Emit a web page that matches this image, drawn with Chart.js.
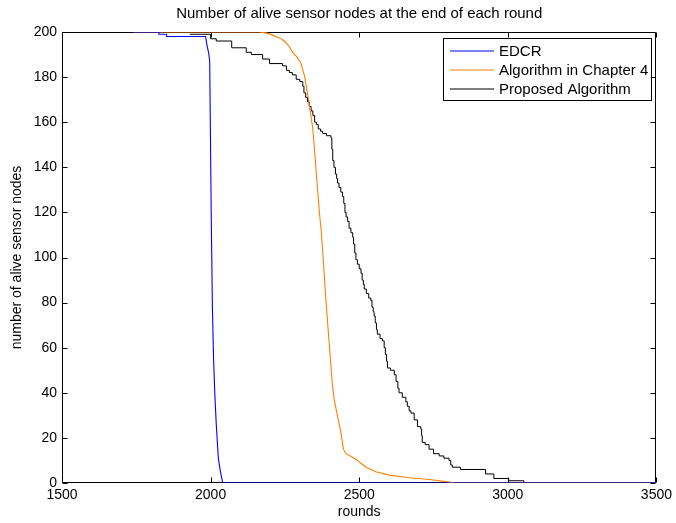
<!DOCTYPE html>
<html>
<head>
<meta charset="utf-8">
<script src="https://cdn.jsdelivr.net/npm/chart.js@4/dist/chart.umd.min.js"></script>
<style>
  html, body { margin: 0; padding: 0; background: #fff; }
  #wrap { width: 676px; height: 523px; }
</style>
</head>
<body>
<div id="wrap"><canvas id="c" width="676" height="523"></canvas></div>
<script>
// ---- data ----
const chartTitle = 'Number of alive sensor nodes at the end of each round';
const xAxisTitle = 'rounds';
const yAxisTitle = 'number of alive sensor nodes';
const seriesNames = ['EDCR', 'Algorithm in Chapter 4', 'Proposed Algorithm'];

const xTickValues = [1500, 2000, 2500, 3000, 3500];
const yTickValues = [0, 20, 40, 60, 80, 100, 120, 140, 160, 180, 200];

const edcrRounds = [1740, 1826, 1826, 1852, 1852, 1983, 1988, 1993, 1997, 1999, 2002, 2006, 2010, 2014, 2019, 2026, 2033, 2041, 3500];
const edcrAlive  = [200, 200, 199, 199, 198, 198, 194, 191, 187, 160, 120, 78, 55, 40, 26, 11, 5, 0, 0];

const ch4Rounds = [1740, 2165, 2190, 2210, 2230, 2248, 2262, 2276, 2290, 2304, 2316, 2327, 2335, 2343, 2349, 2358, 2366, 2372, 2377, 2388, 2399, 2410, 2416, 2422, 2439, 2447, 2455, 2470, 2489, 2523, 2556, 2601, 2668, 2701, 2750, 2791, 2825, 3500];
const ch4Alive  = [200, 200, 199.5, 198.5, 197.5, 196, 194, 191, 189, 186, 180.5, 172, 165, 158, 149, 133, 120, 112, 103, 81, 62, 43, 37, 33, 22, 15, 13, 12, 10.5, 7, 5, 3.5, 2.3, 2, 1.3, 0.6, 0, 0];

const propRounds = [1930, 2000, 2019, 2071, 2120, 2137, 2175, 2198, 2242, 2255, 2265, 2275, 2288, 2300, 2310, 2314, 2320, 2326, 2332, 2338, 2344, 2350, 2356, 2362, 2370, 2377, 2390, 2405, 2408, 2411, 2415, 2420, 2424, 2427, 2432, 2438, 2444, 2448, 2452, 2456, 2461, 2466, 2472, 2478, 2481, 2485, 2489, 2494, 2500, 2506, 2510, 2514, 2517, 2524, 2532, 2539, 2543, 2547, 2550, 2554, 2558, 2561, 2570, 2578, 2584, 2588, 2592, 2595, 2605, 2618, 2624, 2630, 2634, 2645, 2657, 2662, 2668, 2674, 2685, 2696, 2707, 2710, 2712, 2722, 2735, 2750, 2769, 2785, 2802, 2808, 2813, 2841, 2925, 2953, 3003, 3054, 3500];
const propAlive  = [199, 197, 196, 193, 191, 190, 188, 186, 185, 183, 182, 181, 179, 178, 176, 173, 171, 169, 167, 165, 163, 160, 159, 157, 156, 155, 154, 153, 148, 143, 140, 137, 135, 133, 131, 129, 127, 124, 120, 118, 116, 113, 111, 109, 106, 102, 99, 97, 95, 93, 90, 88, 86, 84, 82, 81, 78, 76, 74, 71, 68, 66, 64, 63, 60, 57, 54, 51, 50, 48, 45, 42, 40, 38, 36, 34, 32, 31, 28, 25, 24, 21, 18, 17, 15, 13, 12, 11, 10, 8, 7, 6, 4, 2, 1, 0, 0];

const seriesColors = ['#0000ff', '#ff8000', '#000000'];

// ---- build library data from the arrays ----
function pairs(xs, ys) { return xs.map((x, i) => ({ x: x, y: ys[i] })); }

const FONT = "'Liberation Sans', Arial, Helvetica, sans-serif";

const framePlugin = {
  id: 'frame',
  beforeDatasetsDraw(chart) {
    const { ctx, chartArea: a, scales } = chart;
    const L = Math.round(a.left) + 0.5, R = Math.round(a.right) - 0.5;
    const T = Math.round(a.top) + 0.5, B = Math.round(a.bottom) - 0.5;
    ctx.save();
    ctx.strokeStyle = '#000';
    ctx.lineWidth = 1;
    ctx.beginPath();
    ctx.rect(L, T, R - L, B - T);
    const tl = 5;
    scales.x.ticks.forEach(t => {
      const px = Math.round(scales.x.getPixelForValue(t.value)) + 0.5;
      ctx.moveTo(px, B); ctx.lineTo(px, B - tl);
      ctx.moveTo(px, T); ctx.lineTo(px, T + tl);
    });
    scales.y.ticks.forEach(t => {
      const py = Math.round(scales.y.getPixelForValue(t.value)) + 0.5;
      ctx.moveTo(L, py); ctx.lineTo(L + tl, py);
      ctx.moveTo(R, py); ctx.lineTo(R - tl, py);
    });
    ctx.stroke();
    ctx.restore();
  },
  afterDraw(chart) {
    const { ctx, chartArea: a } = chart;
    ctx.save();
    // title
    ctx.fillStyle = '#000';
    ctx.font = '15px ' + FONT;
    ctx.textAlign = 'center';
    ctx.textBaseline = 'middle';
    ctx.fillText(chartTitle, (a.left + a.right) / 2, 14);
    // legend box
    const bx = 443.5, by = 38.5, bw = 208, bh = 62;
    ctx.fillStyle = '#fff';
    ctx.fillRect(bx, by, bw, bh);
    ctx.strokeStyle = '#000';
    ctx.lineWidth = 1;
    ctx.strokeRect(bx, by, bw, bh);
    ctx.textAlign = 'left';
    ctx.font = '15px ' + FONT;
    seriesNames.forEach((name, i) => {
      const y = Math.round(by + 12 + i * 19);
      ctx.strokeStyle = seriesColors[i];
      ctx.lineWidth = 1.2;
      ctx.beginPath();
      ctx.moveTo(450, y); ctx.lineTo(494, y);
      ctx.stroke();
      ctx.fillStyle = '#000';
      ctx.fillText(name, 499, y + 0.5);
    });
    ctx.restore();
  }
};

new Chart(document.getElementById('c'), {
  type: 'line',
  data: {
    datasets: [
      { label: seriesNames[0], data: pairs(edcrRounds, edcrAlive), borderColor: seriesColors[0], borderWidth: 1.1, pointRadius: 0, tension: 0, fill: false },
      { label: seriesNames[1], data: pairs(ch4Rounds, ch4Alive), borderColor: seriesColors[1], borderWidth: 1.1, pointRadius: 0, tension: 0, fill: false },
      { label: seriesNames[2], data: pairs(propRounds, propAlive), borderColor: seriesColors[2], borderWidth: 1, pointRadius: 0, tension: 0, fill: false, stepped: 'before' }
    ]
  },
  options: {
    responsive: false,
    animation: false,
    devicePixelRatio: 1,
    layout: { padding: { top: 32, right: 18, left: 0, bottom: 0 } },
    plugins: {
      legend: { display: false },
      title: { display: false },
      tooltip: { enabled: false }
    },
    scales: {
      x: {
        type: 'linear',
        min: xTickValues[0],
        max: xTickValues[xTickValues.length - 1],
        afterBuildTicks: s => { s.ticks = xTickValues.map(v => ({ value: v })); },
        afterFit: s => { s.height = 40; },
        grid: { display: false, drawTicks: false },
        border: { display: false },
        ticks: { color: '#000', font: { family: FONT, size: 14 }, padding: 4, maxRotation: 0, autoSkip: false, callback: v => String(v) },
        title: { display: true, text: xAxisTitle, color: '#000', font: { family: FONT, size: 14 }, padding: { top: 0, bottom: 2 } }
      },
      y: {
        type: 'linear',
        min: yTickValues[0],
        max: yTickValues[yTickValues.length - 1],
        afterBuildTicks: s => { s.ticks = yTickValues.map(v => ({ value: v })); },
        afterFit: s => { s.width = 62; },
        grid: { display: false, drawTicks: false },
        border: { display: false },
        ticks: { color: '#000', font: { family: FONT, size: 14 }, padding: 5, autoSkip: false, callback: v => String(v) },
        title: { display: true, text: yAxisTitle, color: '#000', font: { family: FONT, size: 14 }, padding: { top: 9, bottom: 0 } }
      }
    }
  },
  plugins: [framePlugin]
});
</script>
</body>
</html>
